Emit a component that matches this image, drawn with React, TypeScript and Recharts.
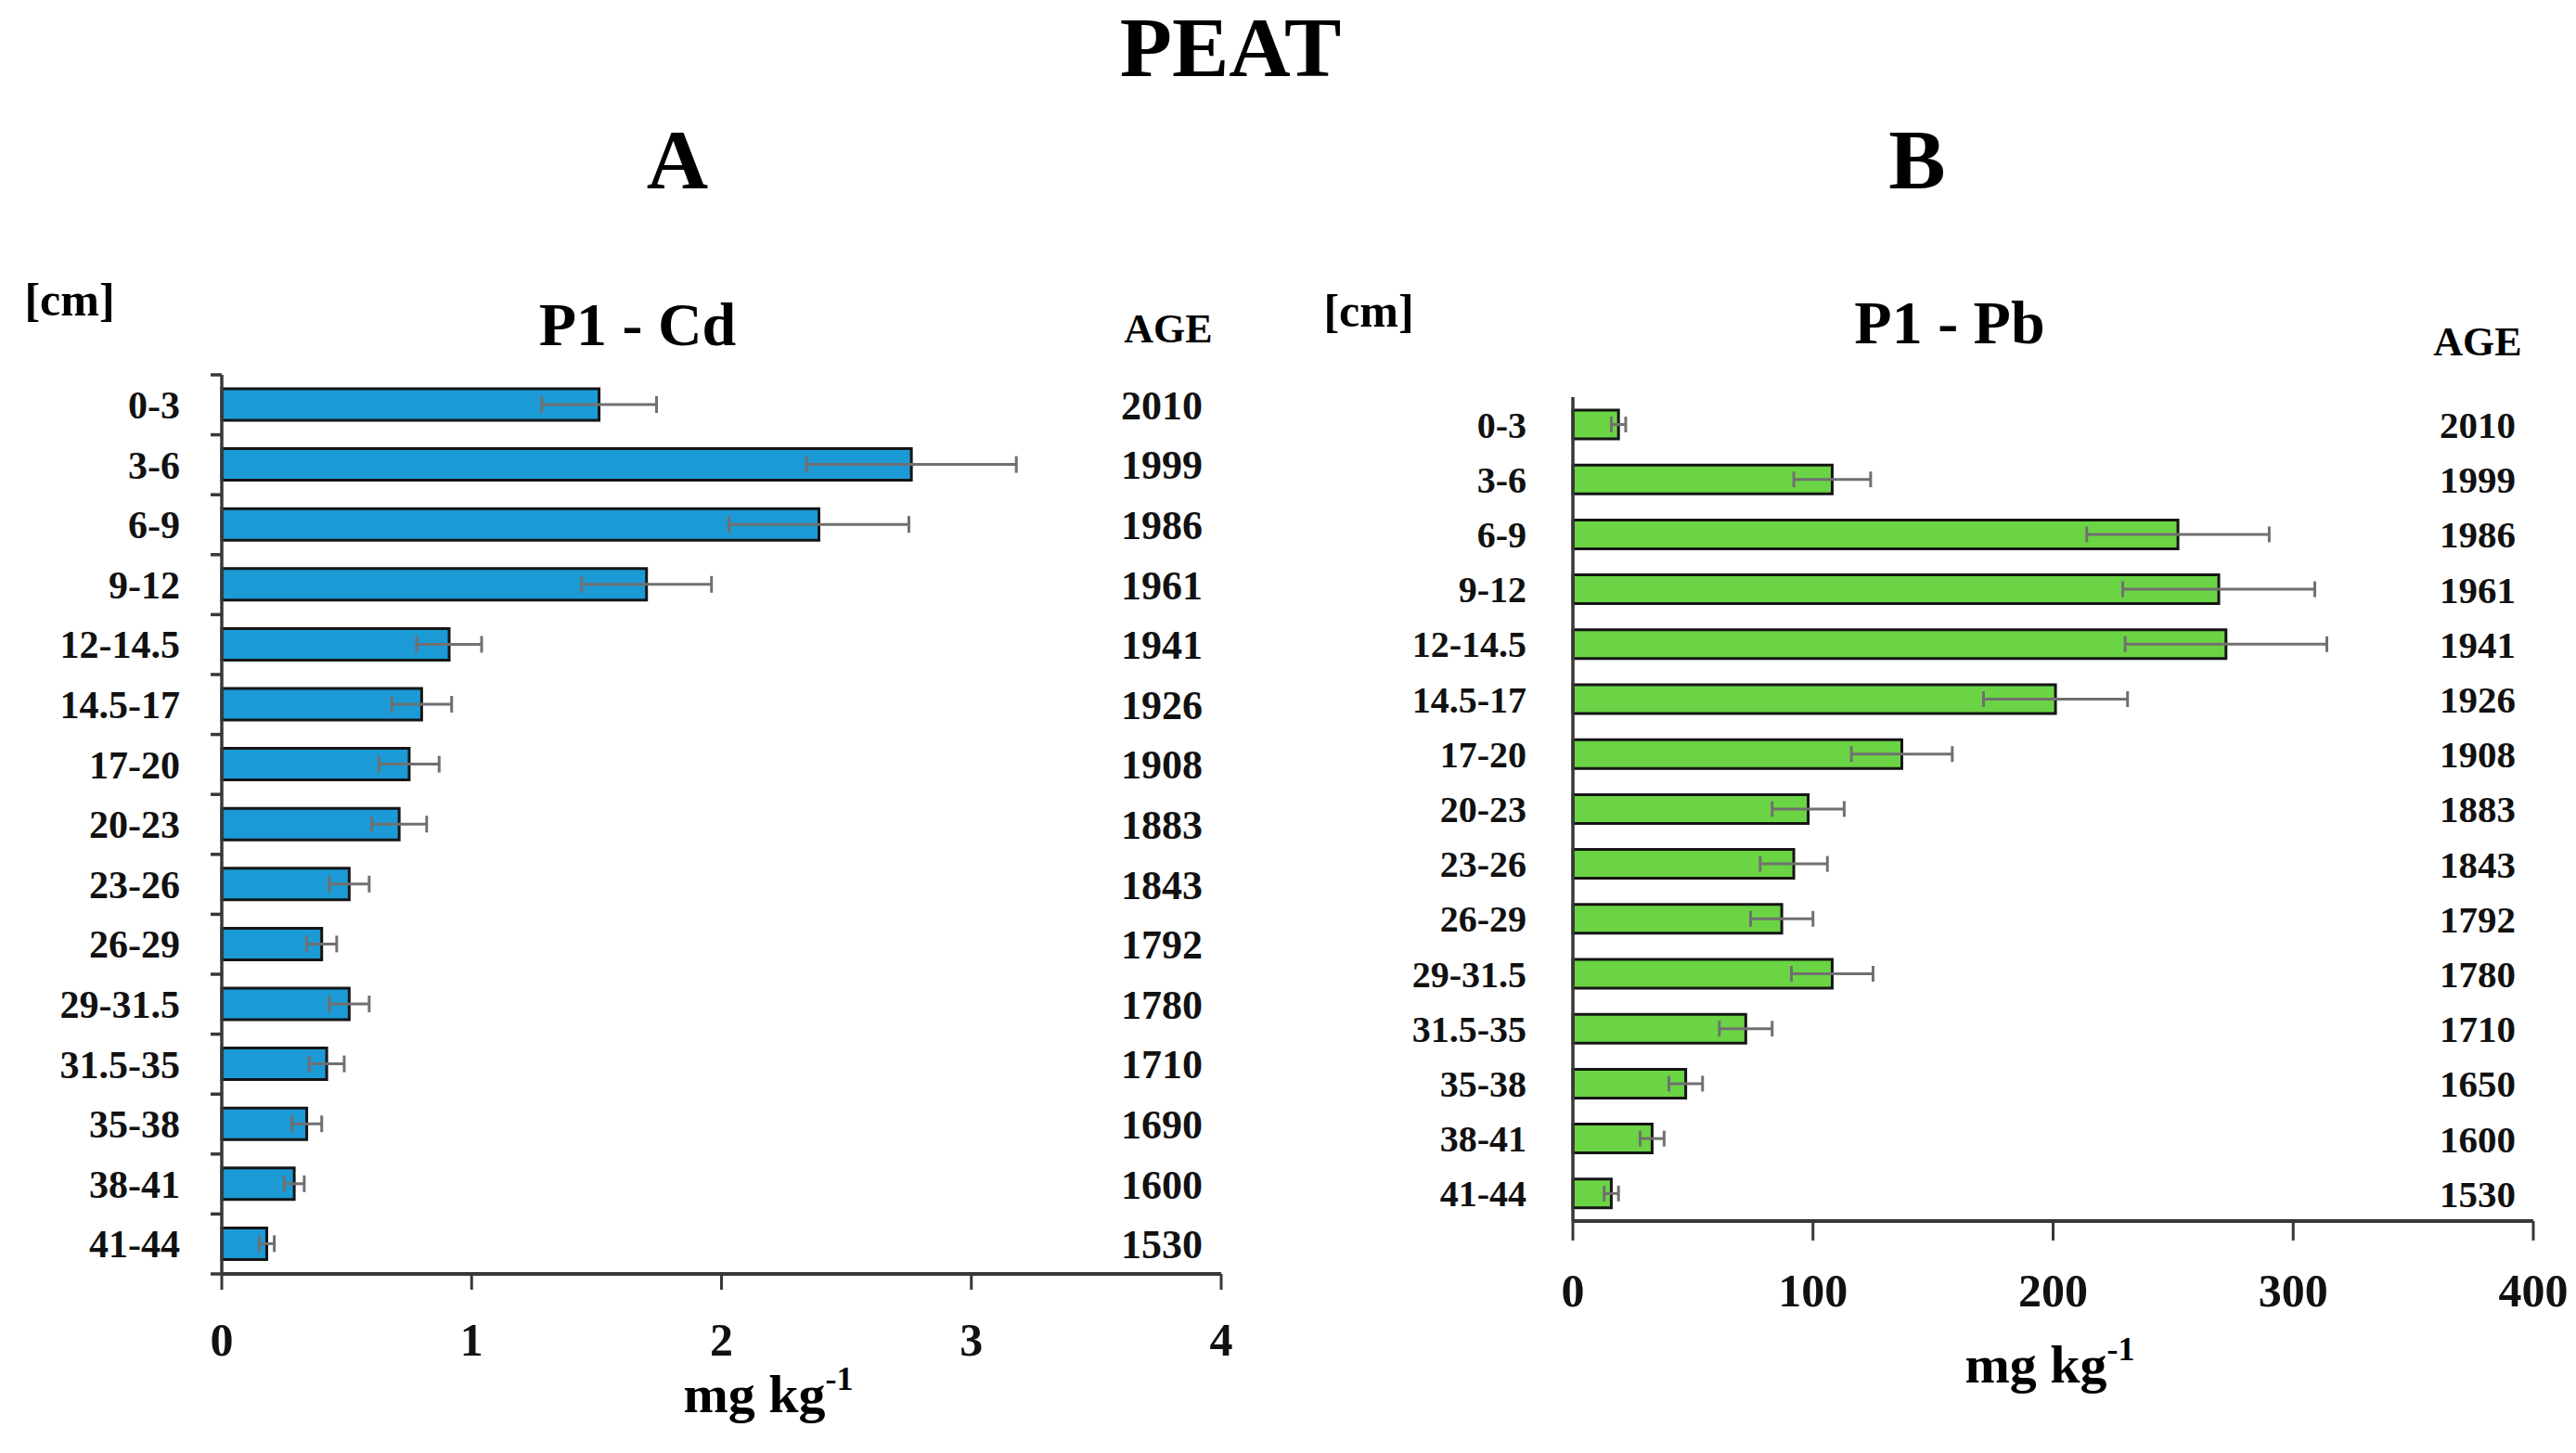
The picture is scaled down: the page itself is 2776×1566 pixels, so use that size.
import { BarChart, Bar, XAxis, YAxis, ErrorBar } from "recharts";

// depth intervals shared by both profiles
const depths = ["0-3", "3-6", "6-9", "9-12", "12-14.5", "14.5-17", "17-20", "20-23", "23-26", "26-29", "29-31.5", "31.5-35", "35-38", "38-41", "41-44"];

// P1 - Cd (mg/kg)
const cdValues = [1.51, 2.76, 2.39, 1.7, 0.91, 0.8, 0.75, 0.71, 0.51, 0.4, 0.51, 0.42, 0.34, 0.29, 0.18];
const cdErrors = [0.23, 0.42, 0.36, 0.26, 0.13, 0.12, 0.12, 0.11, 0.08, 0.06, 0.08, 0.07, 0.06, 0.04, 0.03];
const cdAges = ["2010", "1999", "1986", "1961", "1941", "1926", "1908", "1883", "1843", "1792", "1780", "1710", "1690", "1600", "1530"];
const cdTicks = [0, 1, 2, 3, 4];

// P1 - Pb (mg/kg)
const pbValues = [19, 108, 252, 269, 272, 201, 137, 98, 92, 87, 108, 72, 47, 33, 16];
const pbErrors = [3, 16, 38, 40, 42, 30, 21, 15, 14, 13, 17, 11, 7, 5, 3];
const pbAges = ["2010", "1999", "1986", "1961", "1941", "1926", "1908", "1883", "1843", "1792", "1780", "1710", "1650", "1600", "1530"];
const pbTicks = [0, 100, 200, 300, 400];

const FONT = "'Liberation Serif', 'Times New Roman', serif";
const AXIS = "#383838";

const cdData = depths.map((depth, i) => ({ depth, value: cdValues[i], err: cdErrors[i], age: cdAges[i] }));
const pbData = depths.map((depth, i) => ({ depth, value: pbValues[i], err: pbErrors[i], age: pbAges[i] }));

const DepthTick = (props: any) => {
  const { x, y, payload, index, gap, markLen, bandHalf, total, fontSize } = props;
  const half = payload?.offset || bandHalf;
  const ax = x + gap;
  return (
    <g>
      <text x={x} y={y} dy="0.35em" textAnchor="end" fontFamily={FONT} fontWeight="bold" fontSize={fontSize} fill="#111">
        {payload.value}
      </text>
      {markLen > 0 && <line x1={ax - markLen} x2={ax} y1={y - half} y2={y - half} stroke={AXIS} strokeWidth={3.5} />}
      {markLen > 0 && index === total - 1 && (
        <line x1={ax - markLen} x2={ax} y1={y + half} y2={y + half} stroke={AXIS} strokeWidth={3.5} />
      )}
    </g>
  );
};

const AgeTick = (props: any) => {
  const { x, y, payload, dx, fontSize } = props;
  return (
    <text x={x + dx} y={y} dy="0.35em" textAnchor="middle" fontFamily={FONT} fontWeight="bold" fontSize={fontSize} fill="#111">
      {payload.value}
    </text>
  );
};

interface ProfileProps {
  data: { depth: string; value: number; err: number; age: string }[];
  ticks: number[];
  color: string;
  width: number;
  height: number;
  margin: { top: number; right: number; bottom: number; left: number };
  yWidth: number;
  labelGap: number;
  markLen: number;
  xTickLen: number;
  barSize: number;
  capHalf: number;
  ageDx: number;
  depthFont: number;
  ageFont: number;
}

const Profile = (p: ProfileProps) => {
  const plotH = p.height - p.margin.top - p.margin.bottom - 100;
  const bandHalf = plotH / p.data.length / 2;
  return (
    <BarChart width={p.width} height={p.height} data={p.data} layout="vertical" margin={p.margin}>
      <XAxis
        type="number"
        domain={[p.ticks[0], p.ticks[p.ticks.length - 1]]}
        ticks={p.ticks}
        height={100}
        tickSize={p.xTickLen}
        tickMargin={35}
        stroke={AXIS}
        axisLine={{ stroke: AXIS, strokeWidth: 4 }}
        tickLine={{ stroke: AXIS, strokeWidth: 3 }}
        tick={{ fontFamily: FONT, fontWeight: "bold", fontSize: 50, fill: "#111" }}
        interval={0}
      />
      <YAxis
        type="category"
        dataKey="depth"
        width={p.yWidth}
        tickSize={0}
        tickMargin={p.labelGap}
        tickLine={false}
        axisLine={{ stroke: AXIS, strokeWidth: 3.5 }}
        interval={0}
        tick={<DepthTick gap={p.labelGap} markLen={p.markLen} bandHalf={bandHalf} total={p.data.length} fontSize={p.depthFont} />}
      />
      <YAxis
        yAxisId="age"
        orientation="right"
        type="category"
        dataKey="age"
        width={1}
        tickSize={0}
        tickMargin={0}
        axisLine={false}
        tickLine={false}
        interval={0}
        tick={<AgeTick dx={p.ageDx} fontSize={p.ageFont} />}
      />
      <Bar dataKey="value" fill={p.color} stroke="#151515" strokeWidth={3} barSize={p.barSize} isAnimationActive={false}>
        <ErrorBar dataKey="err" direction="x" width={p.capHalf} stroke="#707070" strokeWidth={3} isAnimationActive={false} />
      </Bar>
    </BarChart>
  );
};

const T = (props: { x: number; y: number; size: number; children: any }) => (
  <text x={props.x} y={props.y} textAnchor="middle" fontFamily={FONT} fontWeight="bold" fontSize={props.size} fill="#000">
    {props.children}
  </text>
);

export default function App() {
  return (
    <div style={{ position: "absolute", left: 0, top: 0, width: 2776, height: 1566, background: "#fff" }}>
      <div style={{ position: "absolute", left: 0, top: 380 }}>
        <Profile
          data={cdData}
          ticks={cdTicks}
          color="#1b9ad6"
          width={1400}
          height={1180}
          margin={{ top: 24, right: 83, bottom: 87, left: 0 }}
          yWidth={239}
          labelGap={45}
          markLen={12}
          xTickLen={17}
          barSize={34}
          capHalf={9}
          ageDx={-64}
          depthFont={42}
          ageFont={44}
        />
      </div>
      <div style={{ position: "absolute", left: 1420, top: 400 }}>
        <Profile
          data={pbData}
          ticks={pbTicks}
          color="#6bd444"
          width={1356}
          height={1166}
          margin={{ top: 28, right: 45, bottom: 150, left: 0 }}
          yWidth={275}
          labelGap={50}
          markLen={0}
          xTickLen={21}
          barSize={31}
          capHalf={8.5}
          ageDx={-60}
          depthFont={40}
          ageFont={41}
        />
      </div>
      <svg width={2776} height={1566} style={{ position: "absolute", left: 0, top: 0, pointerEvents: "none" }}>
        <T x={1326} y={82} size={92}>PEAT</T>
        <T x={730} y={203} size={92}>A</T>
        <T x={2066} y={203} size={92}>B</T>
        <T x={75} y={340} size={50}>[cm]</T>
        <T x={1475} y={352} size={50}>[cm]</T>
        <T x={687} y={372} size={66}>P1 - Cd</T>
        <T x={2101} y={370} size={66}>P1 - Pb</T>
        <T x={1259} y={369} size={44}>AGE</T>
        <T x={2670} y={383} size={44}>AGE</T>
        <T x={828} y={1522} size={58}>
          mg kg<tspan dy={-24} fontSize={36}>-1</tspan>
        </T>
        <T x={2209} y={1490} size={58}>
          mg kg<tspan dy={-24} fontSize={36}>-1</tspan>
        </T>
      </svg>
    </div>
  );
}
